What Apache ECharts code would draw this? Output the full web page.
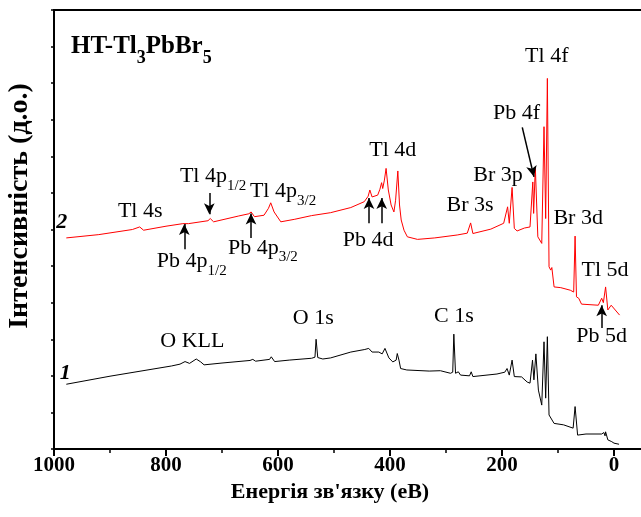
<!DOCTYPE html>
<html>
<head>
<meta charset="utf-8">
<script src="https://cdn.jsdelivr.net/npm/echarts@6/dist/echarts.min.js"></script>
<style>
  html, body { margin: 0; padding: 0; background: #fff; overflow: hidden; }
  #chart { width: 641px; height: 517px; }
</style>
</head>
<body>
<div id="chart"></div>
<script>
// ---- Data (binding energy in eV, intensity in arbitrary units) ----
const energyCurve1 = [978, 900, 790, 775, 766, 758, 746, 738, 732, 700, 650, 645, 640, 615, 612, 606, 580, 540, 534, 532, 529, 520, 506, 470, 445, 438, 432, 420, 417, 414, 409, 402, 395, 389, 387, 384, 381, 370, 330, 310, 292, 288, 286, 283, 278, 274, 258, 255, 252, 209, 195, 191, 187, 182, 178, 165, 155, 150, 145.5, 143, 139.5, 135, 129, 125, 122, 119, 116, 113, 107, 90, 73, 69.5, 65, 50, 22, 18, 16, 15, 11, 4, 0, -9];
const intensityCurve1 = [1.77, 1.99, 2.27, 2.32, 2.39, 2.34, 2.46, 2.38, 2.30, 2.35, 2.42, 2.45, 2.40, 2.45, 2.52, 2.39, 2.43, 2.48, 2.51, 3.00, 2.50, 2.46, 2.49, 2.65, 2.72, 2.75, 2.65, 2.65, 2.70, 2.60, 2.75, 2.49, 2.38, 2.43, 2.61, 2.43, 2.20, 2.16, 2.13, 2.14, 2.07, 2.10, 3.14, 2.07, 2.11, 2.02, 2.00, 2.11, 1.98, 2.05, 2.10, 2.20, 2.02, 2.43, 1.98, 1.97, 1.83, 1.80, 2.43, 1.89, 2.60, 1.61, 1.20, 2.93, 1.39, 3.07, 0.93, 0.88, 0.70, 0.66, 0.57, 1.16, 0.38, 0.41, 0.41, 0.45, 0.36, 0.47, 0.25, 0.20, 0.16, 0.13];

const energyCurve2 = [978, 920, 860, 847, 840, 800, 770, 767, 760, 725, 721, 715, 670, 652, 648, 642, 625, 617, 613, 607, 595, 570, 540, 506, 470, 446, 439, 436, 432, 422, 418, 415, 413, 410, 407, 403, 398, 393, 390, 386, 383, 380, 375, 369, 351, 320, 280, 262, 256, 252, 220, 197, 190, 187, 182, 178, 173, 160, 150, 145, 143.5, 140.5, 136, 129, 125, 122, 119, 116, 113, 111, 107, 95, 78, 72, 69.5, 67, 63, 58, 28, 22, 19, 15, 11, 5, -10];
const intensityCurve2 = [5.77, 5.86, 6.00, 6.07, 5.98, 6.09, 6.16, 6.21, 6.16, 6.24, 6.30, 6.21, 6.37, 6.43, 6.48, 6.35, 6.39, 6.58, 6.73, 6.48, 6.21, 6.28, 6.38, 6.46, 6.60, 6.76, 6.91, 7.08, 6.89, 6.94, 7.10, 7.28, 7.12, 7.35, 7.67, 7.08, 6.67, 6.48, 6.80, 7.60, 6.67, 6.26, 5.98, 5.80, 5.73, 5.77, 5.85, 5.90, 6.18, 5.89, 6.01, 6.17, 6.62, 6.17, 7.15, 6.03, 5.96, 6.04, 6.07, 7.30, 6.44, 7.71, 5.80, 5.62, 8.81, 6.30, 10.13, 4.98, 4.89, 4.96, 4.43, 4.41, 4.34, 4.29, 5.82, 4.16, 4.12, 3.96, 3.93, 4.12, 4.00, 4.43, 3.80, 3.93, 3.66];

const xTickValues = [1000, 800, 600, 400, 200, 0];

// Peak labels: text and the (energy, intensity) point they sit at
const peakLabels = [
  { text: '{m|Tl 4s}', e: 846, v: 6.45 },
  { text: '{m|Tl 4p}{s|1/2}', e: 716, v: 7.40 },
  { text: '{m|Tl 4p}{s|3/2}', e: 591, v: 6.99 },
  { text: '{m|Pb 4p}{s|1/2}', e: 754, v: 5.08 },
  { text: '{m|Pb 4p}{s|3/2}', e: 627, v: 5.44 },
  { text: '{m|Pb 4d}', e: 439, v: 5.66 },
  { text: '{m|Tl 4d}', e: 395, v: 8.10 },
  { text: '{m|Br 3s}', e: 257, v: 6.62 },
  { text: '{m|Br 3p}', e: 207, v: 7.44 },
  { text: '{m|Pb 4f}', e: 174, v: 9.13 },
  { text: '{m|Tl 4f}', e: 120, v: 10.68 },
  { text: '{m|Br 3d}', e: 64, v: 6.26 },
  { text: '{m|Tl 5d}', e: 16, v: 4.84 },
  { text: '{m|Pb 5d}', e: 22, v: 3.02 },
  { text: '{m|O KLL}', e: 753, v: 2.89 },
  { text: '{m|O 1s}', e: 537, v: 3.52 },
  { text: '{m|C 1s}', e: 286, v: 3.57 }
];
// Arrows: from (e1, v1) to (e2, v2)
const arrows = [
  [722.7, 7.00, 722.7, 6.42],
  [767.3, 5.46, 767.3, 6.15],
  [648.2, 5.77, 648.2, 6.44],
  [437.5, 6.17, 437.5, 6.86],
  [414.8, 6.17, 414.8, 6.86],
  [163.8, 8.79, 142.9, 7.44],
  [22.0, 3.31, 22.0, 3.93]
];
const curveNames = [{ text: '2', e: 986, v: 6.21 }, { text: '1', e: 980, v: 2.08 }];

const FONT = '"Liberation Serif", "Times New Roman", serif';

function pairs(xs, ys) { return xs.map((x, i) => [x, ys[i]]); }

const chart = echarts.init(document.getElementById('chart'), null, { renderer: 'canvas' });

const option = {
  animation: false,
  backgroundColor: '#fff',
  grid: {
    left: 54, width: 672, top: 10, bottom: 68, containLabel: false, outerBoundsMode: 'none',
    show: true, borderColor: '#000', borderWidth: 2, backgroundColor: 'transparent'
  },
  xAxis: {
    type: 'value', inverse: true, min: -200, max: 1000, interval: 200,
    axisLine: { onZero: false, lineStyle: { color: '#000', width: 2 } },
    axisTick: { inside: false, length: 7, lineStyle: { color: '#000', width: 2 } },
    minorTick: { show: true, splitNumber: 2, length: 4, lineStyle: { color: '#000', width: 1.5 } },
    splitLine: { show: false },
    axisLabel: {
      margin: 6, color: '#000', fontFamily: FONT, fontWeight: 'bold', fontSize: 21,
      formatter: v => (xTickValues.indexOf(v) >= 0 ? String(v) : '')
    }
  },
  yAxis: {
    type: 'value', min: 0, max: 12, interval: 1,
    axisLine: { show: true, onZero: false, lineStyle: { color: '#000', width: 2 } },
    axisTick: { show: true, inside: false, length: 3, lineStyle: { color: '#000', width: 1.5 } },
    axisLabel: { show: false },
    splitLine: { show: false }
  },
  series: [
    {
      name: '1', type: 'line', showSymbol: false, symbol: 'none',
      data: pairs(energyCurve1, intensityCurve1),
      lineStyle: { color: '#000', width: 1 }, itemStyle: { color: '#000' }
    },
    {
      name: '2', type: 'line', showSymbol: false, symbol: 'none',
      data: pairs(energyCurve2, intensityCurve2),
      lineStyle: { color: '#ff0000', width: 1 }, itemStyle: { color: '#ff0000' },
      markLine: {
        silent: true, symbol: ['none', 'arrow'], symbolSize: [8, 11],
        lineStyle: { color: '#000', width: 1.5, type: 'solid' },
        itemStyle: { color: '#000' },
        label: { show: false }, emphasis: { disabled: true },
        data: arrows.map(a => [{ coord: [a[0], a[1]] }, { coord: [a[2], a[3]] }])
      }
    }
  ]
};
chart.setOption(option);

const richMain = {
  m: { fontSize: 22, fontFamily: FONT, color: '#000', verticalAlign: 'top', lineHeight: 26 },
  s: { fontSize: 15, fontFamily: FONT, color: '#000', verticalAlign: 'top', lineHeight: 17, padding: [13, 0, 0, 0] }
};

const graphics = [];
peakLabels.forEach(p => {
  const pt = chart.convertToPixel({ gridIndex: 0 }, [p.e, p.v]);
  graphics.push({
    type: 'text', x: pt[0], y: pt[1], silent: true,
    style: { text: p.text, rich: richMain, align: 'center', verticalAlign: 'middle', fill: '#000' }
  });
});
curveNames.forEach(c => {
  const pt = chart.convertToPixel({ gridIndex: 0 }, [c.e, c.v]);
  graphics.push({
    type: 'text', x: pt[0], y: pt[1], silent: true,
    style: { text: c.text, font: 'italic bold 22px ' + FONT, align: 'center', verticalAlign: 'middle', fill: '#000' }
  });
});
// Sample title
graphics.push({
  type: 'text', x: 71, y: 34, silent: true,
  style: {
    text: '{b|HT-Tl}{s|3}{b|PbBr}{s|5}', align: 'left', verticalAlign: 'top',
    rich: {
      b: { fontSize: 25, fontWeight: 'bold', fontFamily: FONT, color: '#000', verticalAlign: 'top', lineHeight: 28 },
      s: { fontSize: 18, fontWeight: 'bold', fontFamily: FONT, color: '#000', verticalAlign: 'top', lineHeight: 20, padding: [15, 0, 0, 0] }
    }
  }
});
// Axis titles
graphics.push({
  type: 'text', x: 330, y: 492, silent: true,
  style: { text: 'Енергія зв\'язку (еВ)', font: 'bold 22px ' + FONT, align: 'center', verticalAlign: 'middle', fill: '#000' }
});
graphics.push({
  type: 'text', x: 20, y: 206, rotation: Math.PI / 2, silent: true,
  style: { text: 'Інтенсивність (д.о.)', font: 'bold 28px ' + FONT, align: 'center', verticalAlign: 'middle', fill: '#000' }
});
chart.setOption({ graphic: graphics });
</script>
</body>
</html>
